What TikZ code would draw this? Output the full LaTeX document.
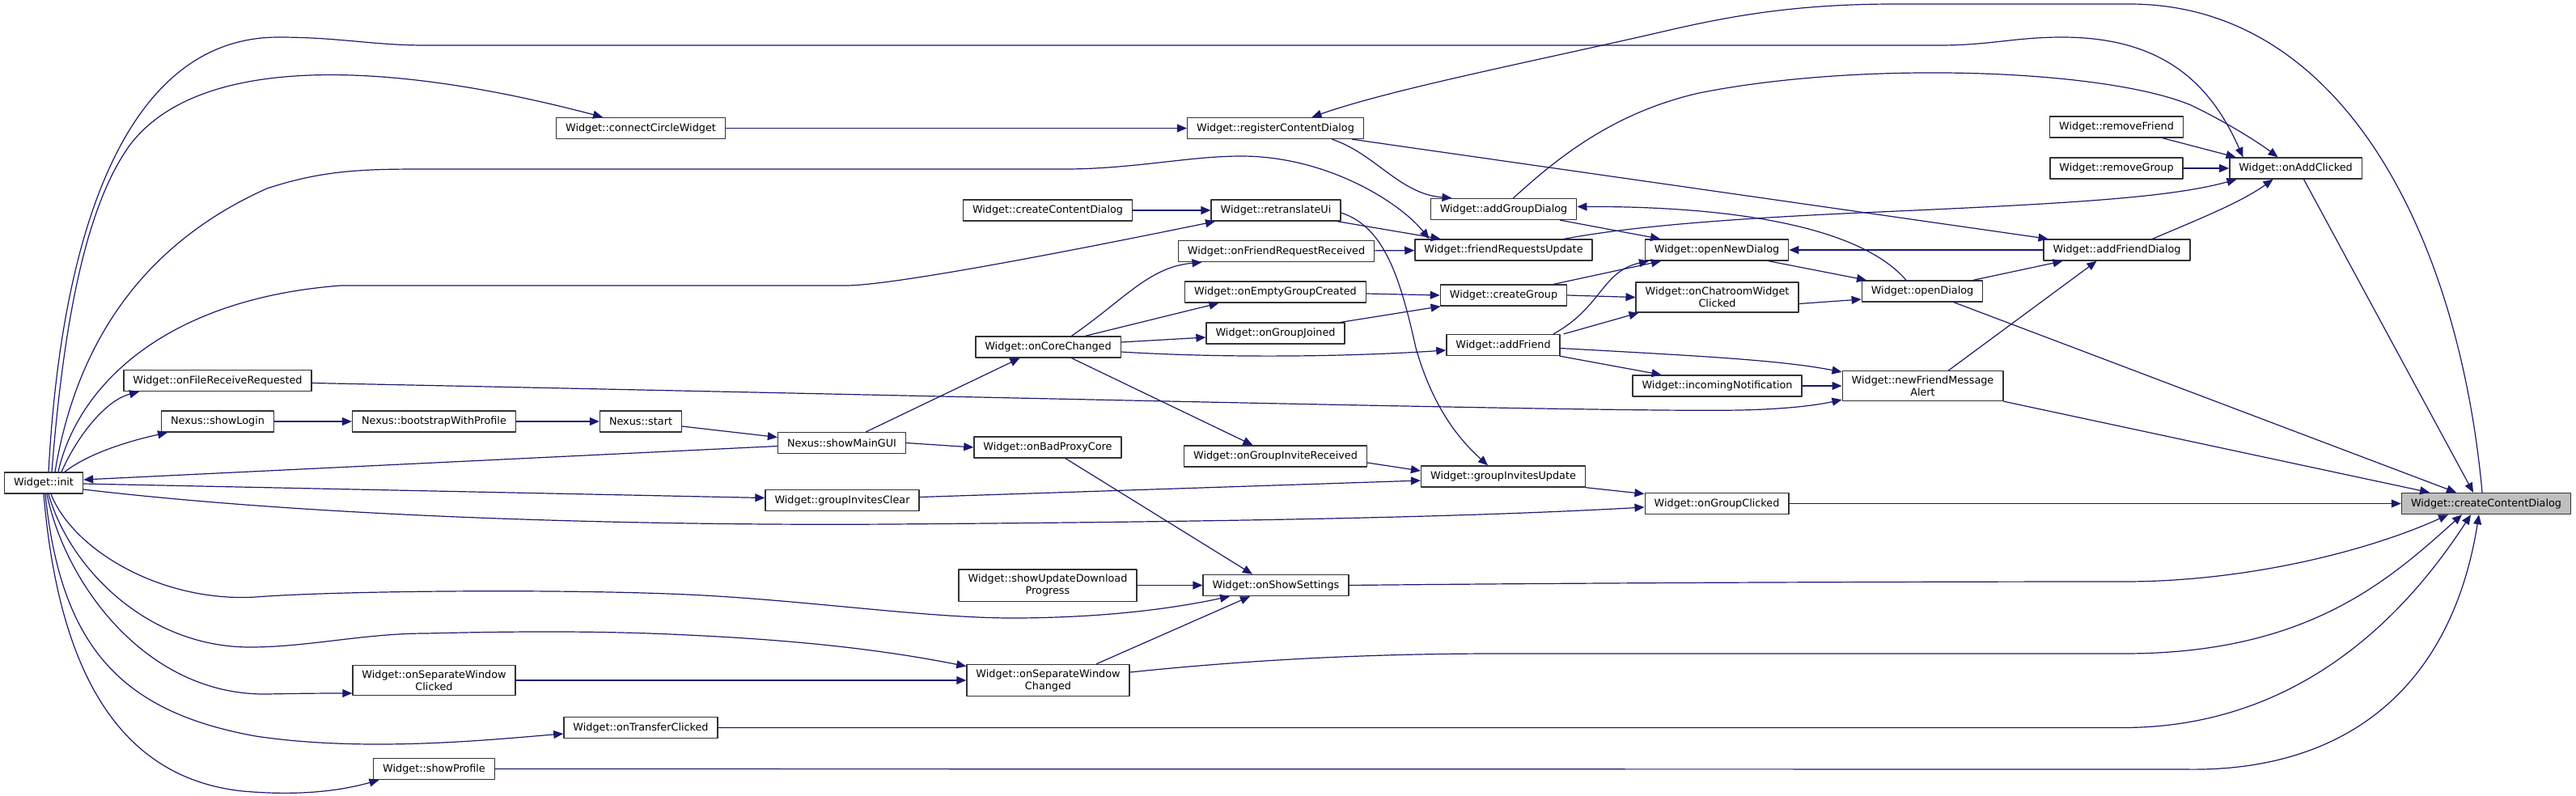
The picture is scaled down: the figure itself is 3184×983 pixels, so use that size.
\documentclass[tikz,border=0pt]{standalone}
\usepackage{fontspec}
\setmainfont{DejaVu Sans}
\usetikzlibrary{arrows.meta}
\definecolor{edgeblue}{HTML}{191970}
\definecolor{selgrey}{HTML}{BFBFBF}
\tikzset{
  fn/.style={draw=black!80, line width=1.4pt, fill=white, minimum height=26pt,
    inner xsep=11.5pt, inner ysep=6pt, align=center,
    font=\fontsize{12.8}{15}\selectfont},
  fnsel/.style={fn, fill=selgrey},
  call/.style={draw=edgeblue, line width=1.2pt, -{Triangle[length=12pt,width=10pt]}},
}
\begin{document}
\begin{tikzpicture}[x=1pt, y=-1pt, line cap=round, line join=round]
\useasboundingbox (0,0) rectangle (3184,983);

%-----------------------
% functions, column by column
%-----------------------
\node[fn] (init)            at (54,597)      {Widget::init};
\node[fn] (fileRecv)        at (269,470.5)   {Widget::onFileReceiveRequested};
\node[fn] (showLogin)       at (269,521)     {Nexus::showLogin};
\node[fn] (bootstrap)       at (536.5,521)   {Nexus::bootstrapWithProfile};
\node[fn] (sepWinClicked)   at (536.5,841)   {Widget::onSeparateWindow\\Clicked};
\node[fn] (showProfile)     at (536.5,950.5) {Widget::showProfile};
\node[fn] (connCircle)      at (792,158.5)   {Widget::connectCircleWidget};
\node[fn] (nstart)          at (792,521)     {Nexus::start};
\node[fn] (transferClicked) at (792,899.5)   {Widget::onTransferClicked};
\node[fn] (showMainGUI)     at (1040.5,547.5){Nexus::showMainGUI};
\node[fn] (grpInvClear)     at (1041,618.5)  {Widget::groupInvitesClear};
\node[fn] (createContentL)  at (1295,260)    {Widget::createContentDialog};
\node[fn] (coreChanged)     at (1295.5,429)  {Widget::onCoreChanged};
\node[fn] (badProxy)        at (1295,553)    {Widget::onBadProxyCore};
\node[fn] (showUpdDl)       at (1295,723.5)  {Widget::showUpdateDownload\\Progress};
\node[fn] (sepWinChanged)   at (1295.5,841)  {Widget::onSeparateWindow\\Changed};
\node[fn] (regContent)      at (1576.5,158.5){Widget::registerContentDialog};
\node[fn] (retranslate)     at (1577,260)    {Widget::retranslateUi};
\node[fn] (friendReqRecv)   at (1577.5,310.5){Widget::onFriendRequestReceived};
\node[fn] (emptyGroup)      at (1576.5,361)  {Widget::onEmptyGroupCreated};
\node[fn] (groupJoined)     at (1576.5,412)  {Widget::onGroupJoined};
\node[fn] (grpInvRecv)      at (1576.5,564)  {Widget::onGroupInviteReceived};
\node[fn] (showSettings)    at (1577,723.5)  {Widget::onShowSettings};
\node[fn] (addGroupDlg)     at (1858.5,258.5){Widget::addGroupDialog};
\node[fn] (friendReqUpd)    at (1858.5,309)  {Widget::friendRequestsUpdate};
\node[fn] (createGroup)     at (1858.5,365)  {Widget::createGroup};
\node[fn] (addFriend)       at (1858,426.5)  {Widget::addFriend};
\node[fn] (grpInvUpd)       at (1858,589)    {Widget::groupInvitesUpdate};
\node[fn] (openNewDlg)      at (2122,309)    {Widget::openNewDialog};
\node[fn] (chatroomClicked) at (2122.5,367.5){Widget::onChatroomWidget\\Clicked};
\node[fn] (incomingNotif)   at (2122.5,477)  {Widget::incomingNotification};
\node[fn] (groupClicked)    at (2122,622.5)  {Widget::onGroupClicked};
\node[fn] (openDlg)         at (2376,360)    {Widget::openDialog};
\node[fn] (newFriendMsg)    at (2376.5,477)  {Widget::newFriendMessage\\Alert};
\node[fn] (removeFriend)    at (2616,157)    {Widget::removeFriend};
\node[fn] (removeGroup)     at (2616,208)    {Widget::removeGroup};
\node[fn] (addFriendDlg)    at (2616.5,309)  {Widget::addFriendDialog};
\node[fn] (addClicked)      at (2837.5,208)  {Widget::onAddClicked};
\node[fnsel] (createContent) at (3073,622.5) {Widget::createContentDialog};

%-----------------------
% calls leaving Widget::init
%-----------------------
\draw[call] ([xshift=6pt]init.north) .. controls (75,300) and (150,46) .. (344,46)
  .. controls (420,46) and (460,56) .. (526,56) -- (2397,56)
  .. controls (2460,56) and (2490,46) .. (2549,46)
  .. controls (2680,46) and (2735,110) .. ([xshift=-65pt]addClicked.north);
\draw[call] ([xshift=10pt]init.north) .. controls (80,380) and (110,250) .. (160,180)
  .. controls (250,60) and (500,80) .. ([xshift=-47pt]connCircle.north);
\draw[call] ([xshift=14pt]init.north) .. controls (95,420) and (180,300) .. (330,233)
  .. controls (400,210) and (450,209) .. (526,209) -- (1316,209)
  .. controls (1400,209) and (1470,193) .. (1534,193)
  .. controls (1640,193) and (1730,250) .. ([xshift=-92pt]friendReqUpd.north);
\draw[call] ([xshift=18pt]init.north) .. controls (95,480) and (200,370) .. (421,353)
  -- (1045,353) .. controls (1100,353) and (1300,315) .. ([xshift=-75pt]retranslate.south);
\draw[call] ([xshift=22pt]init.north) .. controls (95,540) and (130,495) .. ([xshift=-97pt]fileRecv.south);
\draw[call] ([xshift=26pt]init.north) .. controls (110,560) and (160,545) .. ([xshift=-62pt]showLogin.south);
\draw[call] ([yshift=-1pt]init.east) -- ([yshift=3pt]grpInvClear.west);
\draw[call] ([yshift=-8pt]init.east) .. controls (400,640) and (800,650) .. (1100,648)
  .. controls (1500,645) and (1800,640) .. ([yshift=-4.5pt]groupClicked.west);
\draw[call] ([xshift=9pt]init.south) .. controls (90,680) and (200,745) .. (316,738)
  .. controls (420,730) and (700,728) .. (850,735)
  .. controls (1000,742) and (1150,765) .. (1260,764)
  .. controls (1380,763) and (1460,750) .. ([xshift=-57pt]showSettings.south);
\draw[call] ([xshift=6pt]init.south) .. controls (85,700) and (180,800) .. (309,800)
  .. controls (380,800) and (450,783) .. (526,783)
  .. controls (650,780) and (750,780) .. (850,785)
  .. controls (1000,792) and (1100,805) .. ([yshift=-3pt]sepWinChanged.north west);
\draw[call] ([xshift=4pt]init.south) .. controls (80,720) and (180,860) .. (330,858)
  .. controls (380,857) and (410,857) .. ([yshift=-16pt]sepWinClicked.west);
\draw[call] ([xshift=2pt]init.south) .. controls (75,800) and (150,880) .. (316,910)
  .. controls (450,930) and (600,915) .. ([yshift=-7.5pt]transferClicked.west);
\draw[call] (init.south) .. controls (70,800) and (130,960) .. (300,978)
  .. controls (380,985) and (430,975) .. ([xshift=-68pt]showProfile.south);

%-----------------------
% Nexus start-up chain
%-----------------------
\draw[call] (showLogin) -- (bootstrap);
\draw[call] (bootstrap) -- (nstart);
\draw[call] ([yshift=-6pt]nstart.east) -- ([yshift=7pt]showMainGUI.west);
\draw[call] ([yshift=-4pt]showMainGUI.west) -- ([yshift=4pt]init.east);
\draw[call] ([xshift=30pt]showMainGUI.north) -- ([xshift=-35pt]coreChanged.south);
\draw[call] (showMainGUI.east) -- (badProxy.west);

%-----------------------
% middle part
%-----------------------
\draw[call] (connCircle) -- (regContent);
\draw[call] (createContentL) -- (retranslate);
\draw[call] ([xshift=70pt]regContent.south) .. controls (1700,190) and (1730,240) .. ([xshift=-64pt]addGroupDlg.north);
\draw[call] ([xshift=95pt]regContent.south) -- ([xshift=-85pt]addFriendDlg.north);
\draw[call] ([xshift=-5pt]createContent.north) .. controls (3040,300) and (2900,5) .. (2632,5) -- (2342,5)
  .. controls (2230,5) and (2150,17) .. (2060,38)
  .. controls (1900,75) and (1720,110) .. ([xshift=45pt]regContent.north);
\draw[call] ([xshift=76pt]retranslate.south) -- ([xshift=-78pt]friendReqUpd.north);
\draw[call] ([yshift=-3pt]retranslate.east) .. controls (1710,280) and (1730,340) .. (1750,430)
  .. controls (1770,500) and (1800,540) .. ([xshift=-19pt]grpInvUpd.north);
\draw[call] (friendReqRecv) -- (friendReqUpd);
\draw[call] ([xshift=75pt]friendReqUpd.north) .. controls (2000,283) and (2100,272) .. (2300,263)
  .. controls (2550,252) and (2680,245) .. ([xshift=-73pt]addClicked.south);
\draw[call] ([xshift=12pt]addGroupDlg.north) .. controls (1920,200) and (1990,140) .. (2100,115)
  .. controls (2300,75) and (2600,85) .. (2708,130)
  .. controls (2750,150) and (2790,175) .. ([xshift=-22pt]addClicked.north);
\draw[call] ([xshift=70pt]addGroupDlg.south) -- ([xshift=-70pt]openNewDlg.north);
\draw[call] ([xshift=-20pt]openDlg.north) .. controls (2290,270) and (2100,255) .. ([yshift=3pt]addGroupDlg.east);
\draw[call] ([xshift=29pt]coreChanged.north) .. controls (1390,370) and (1420,330) .. ([xshift=-92pt]friendReqRecv.south);
\draw[call] ([xshift=46pt]coreChanged.north) -- ([xshift=-70pt]emptyGroup.south);
\draw[call] ([yshift=6pt]coreChanged.east) -- ([yshift=-5pt]groupJoined.west);
\draw[call] ([yshift=-6pt]coreChanged.east) .. controls (1500,442) and (1650,442) .. ([yshift=-6.5pt]addFriend.west);
\draw[call] ([xshift=29pt]coreChanged.south) -- ([xshift=-28pt]grpInvRecv.north);
\draw[call] ([yshift=-2pt]emptyGroup.east) -- (createGroup.west);
\draw[call] ([xshift=81pt]groupJoined.north) -- ([xshift=-78pt]createGroup.south);
\draw[call] ([xshift=62pt]createGroup.north) -- ([xshift=-69pt]openNewDlg.south);
\draw[call] (createGroup.east) -- (chatroomClicked.west);
\draw[call] ([xshift=62pt]addFriend.north) .. controls (1980,380) and (1980,335) .. ([xshift=-84pt]openNewDlg.south);
\draw[call] ([xshift=75pt]addFriend.north) -- ([xshift=-97pt]chatroomClicked.south);
\draw[call] ([yshift=-4pt]addFriend.east) .. controls (2100,440) and (2200,445) .. ([yshift=-2pt]newFriendMsg.north west);
\draw[call] ([xshift=70pt]addFriend.south) -- ([xshift=-69pt]incomingNotif.north);
\draw[call] (incomingNotif) -- (newFriendMsg);
\draw[call] ([xshift=22pt]badProxy.south) -- ([xshift=-29pt]showSettings.north);
\draw[call] (showUpdDl) -- (showSettings);
\draw[call] ([xshift=60pt]sepWinChanged.north) -- ([xshift=-32pt]showSettings.south);
\draw[call] (sepWinClicked) -- (sepWinChanged);
\draw[call] ([yshift=-8pt]grpInvRecv.east) -- ([yshift=7pt]grpInvUpd.west);
\draw[call] ([yshift=4pt]grpInvClear.east) -- ([yshift=-5pt]grpInvUpd.west);
\draw[call] ([yshift=-3pt]fileRecv.east) .. controls (1200,490) and (2000,510) .. (2150,507)
  .. controls (2200,506) and (2240,502) .. ([yshift=2pt]newFriendMsg.south west);

%-----------------------
% right part, into createContentDialog
%-----------------------
\draw[call] ([xshift=32pt]newFriendMsg.north) -- ([xshift=-25pt]addFriendDlg.south);
\draw[call] (newFriendMsg.south east) -- ([xshift=-70pt]createContent.north);
\draw[call] ([xshift=39pt]openDlg.south) -- ([xshift=-37pt]createContent.north);
\draw[call] ([xshift=10pt]addClicked.south) -- ([xshift=-16pt]createContent.north);
\draw[call] ([xshift=64pt]openNewDlg.south) -- ([xshift=-69pt]openDlg.north);
\draw[call] ([yshift=-8pt]chatroomClicked.east) -- ([yshift=-10pt]openDlg.west);
\draw[call] ([xshift=63pt]openDlg.north) -- ([xshift=-67pt]addFriendDlg.south);
\draw[call] (addFriendDlg) -- (openNewDlg);
\draw[call] ([xshift=44pt]addFriendDlg.north) .. controls (2720,270) and (2770,250) .. ([xshift=-28pt]addClicked.south);
\draw[call] ([xshift=57pt]removeFriend.south) -- ([xshift=-74pt]addClicked.north);
\draw[call] (removeGroup) -- (addClicked);
\draw[call] (grpInvUpd.south east) -- ([yshift=12pt]groupClicked.west);
\draw[call] (groupClicked) -- (createContent);
\draw[call] (showSettings.east) .. controls (1900,721) and (2300,719) .. (2625,719)
  .. controls (2780,719) and (2930,680) .. ([xshift=-47pt]createContent.south);
\draw[call] ([yshift=10pt]sepWinChanged.east) .. controls (1550,815) and (1700,808) .. (1850,808) -- (2625,808)
  .. controls (2850,808) and (2950,720) .. ([xshift=-30pt]createContent.south);
\draw[call] (transferClicked.east) -- (2625,899.5)
  .. controls (2850,899) and (2980,750) .. ([xshift=-19pt]createContent.south);
\draw[call] (showProfile.east) -- (2700,951)
  .. controls (2900,955) and (3030,850) .. ([xshift=-9pt]createContent.south);

\end{tikzpicture}
\end{document}
